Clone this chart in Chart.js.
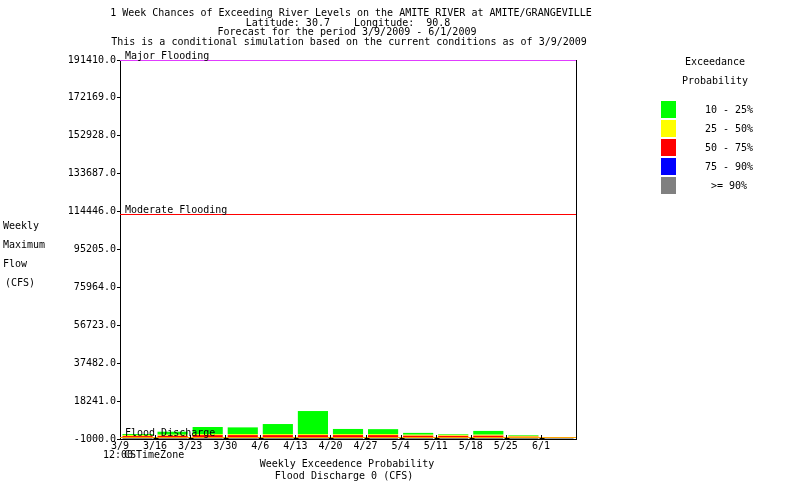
<!DOCTYPE html>
<html>
<head>
<meta charset="utf-8">
<script src="https://cdn.jsdelivr.net/npm/chart.js@4"></script>
<style>
html, body { margin: 0; padding: 0; background: #fff; }
#wrap { width: 800px; height: 500px; position: relative; }
</style>
</head>
<body>
<div id="wrap"><canvas id="chart"></canvas></div>
<script>
//Weeks (X axis tick labels, placed on the week boundaries)
const weeks = ['3/9', '3/16', '3/23', '3/30', '4/6', '4/13', '4/20', '4/27', '5/4', '5/11', '5/18', '5/25', '6/1'];

//Weekly maximum flow (CFS) per exceedance level
const p10 = [1500, 2700, 5100, 4900, 6600, 13200, 4100, 4000, 2100, 1500, 3100, 1000, -600];
const p25 = [1000, 1300, 1500, 1500, 1500, 1500, 1500, 1500, 1300, 1200, 1300, 700, -600];
const p50 = [500, 700, 1000, 1000, 1000, 1000, 1000, 1000, 800, 700, 800, 300, -600];
const p75 = [-500, -500, -500, -500, -500, -500, -500, -500, -500, -500, -500, -500, -600];
const p90 = [-500, -500, -500, -500, -500, -500, -500, -500, -500, -500, -500, -500, -600];
const floor = -1000;

//Y axis tick labels
const yTicks = [-1000, 18241, 37482, 56723, 75964, 95205, 114446, 133687, 152928, 172169, 191410];

//Flood levels (CFS)
const majorFlood = 191410;
const moderateFlood = 113300;
const floodDischarge = 0;

const FONT = '10px "DejaVu Sans Mono", "Liberation Mono", monospace';

//Floating bar [low, high] for one band
function band(lo, hi) {
    return weeks.map((w, i) => ({ x: i + 0.5, y: [lo[i], hi[i]] }));
}
const floorArr = weeks.map(() => floor);

const bandPlugin = {
    id: 'riverDecor',
    afterDatasetsDraw(chart) {
        const c = chart.ctx;
        const a = chart.chartArea;
        const ys = chart.scales.y;
        const xs = chart.scales.x;
        c.save();

        //Flood lines
        const lines = [
            [majorFlood, '#e03cff', 'Major Flooding'],
            [moderateFlood, '#ff0000', 'Moderate Flooding'],
            [floodDischarge, '#ffa500', 'Flood Discharge']
        ];
        c.lineWidth = 1;
        lines.forEach(l => {
            const y = Math.round(ys.getPixelForValue(l[0])) + 0.5;
            c.strokeStyle = l[1];
            c.beginPath();
            c.moveTo(a.left, y);
            c.lineTo(a.right, y);
            c.stroke();
        });
        c.font = FONT;
        c.fillStyle = 'black';
        c.textAlign = 'left';
        c.textBaseline = 'alphabetic';
        lines.forEach(l => {
            const y = Math.round(ys.getPixelForValue(l[0]));
            c.fillText(l[2], a.left + 5, y - 1);
        });

        //Right border
        c.strokeStyle = 'black';
        c.beginPath();
        c.moveTo(Math.round(a.right) + 0.5, a.top);
        c.lineTo(Math.round(a.right) + 0.5, a.bottom);
        c.stroke();

        //Upward tick marks on the X axis
        for (let i = 1; i < weeks.length; i++) {
            const x = Math.round(xs.getPixelForValue(i)) + 0.5;
            c.beginPath();
            c.moveTo(x, a.bottom);
            c.lineTo(x, a.bottom - 4);
            c.stroke();
            c.beginPath();
            c.moveTo(x - 2, a.bottom - 0.5);
            c.lineTo(x + 3, a.bottom - 0.5);
            c.stroke();
        }
        c.restore();
    },
    afterDraw(chart) {
        const c = chart.ctx;
        c.save();
        c.font = FONT;
        c.fillStyle = 'black';
        c.textBaseline = 'middle';

        //Title
        c.textAlign = 'center';
        c.fillText('1 Week Chances of Exceeding River Levels on the AMITE RIVER at AMITE/GRANGEVILLE', 351, 13);
        c.fillText('Latitude: 30.7    Longitude:  90.8', 348, 23);
        c.fillText('Forecast for the period 3/9/2009 - 6/1/2009', 347, 32);
        c.fillText('This is a conditional simulation based on the current conditions as of 3/9/2009', 349, 42);

        //Bottom titles
        c.fillText('Weekly Exceedence Probability', 347, 464);
        c.fillText('Flood Discharge 0 (CFS)', 344, 476);

        //Y axis title
        c.textAlign = 'left';
        ['Weekly', 'Maximum', 'Flow', '(CFS)'].forEach((t, i) => {
            c.fillText(t, i === 3 ? 5 : 3, 226 + i * 19);
        });

        //Time zone
        c.fillText('12:00', 103, 455);
        c.fillText('CSTimeZone', 124, 455);

        //Legend
        c.textAlign = 'center';
        c.fillText('Exceedance', 715, 62);
        c.fillText('Probability', 715, 81);
        const leg = [
            ['#00ff00', '10 - 25%'],
            ['#ffff00', '25 - 50%'],
            ['#ff0000', '50 - 75%'],
            ['#0000ff', '75 - 90%'],
            ['#808080', '>= 90%']
        ];
        leg.forEach((l, i) => {
            c.fillStyle = l[0];
            c.fillRect(661, 101 + i * 19, 15, 17);
            c.fillStyle = 'black';
            c.fillText(l[1], 729, 110 + i * 19);
        });
        c.restore();
    }
};

const barBase = {
    type: 'bar',
    grouped: false,
    borderWidth: 0,
    categoryPercentage: 0.86,
    barPercentage: 1
};

let ctx = document.getElementById('chart');

let chart = new Chart(ctx, {
    type: 'bar',
    data: {
        datasets: [
            Object.assign({ label: '10 - 25%', data: band(p25, p10), backgroundColor: '#00ff00' }, barBase),
            Object.assign({ label: '25 - 50%', data: band(p50, p25), backgroundColor: '#ffff00' }, barBase),
            Object.assign({ label: '50 - 75%', data: band(p75, p50), backgroundColor: '#ff0000' }, barBase),
            Object.assign({ label: '75 - 90%', data: band(p90, p75), backgroundColor: '#0000ff' }, barBase),
            Object.assign({ label: '>= 90%', data: band(floorArr, p90), backgroundColor: '#808080' }, barBase)
        ]
    },
    options: {
        responsive: true,
        maintainAspectRatio: false,
        animation: false,
        layout: {
            padding: { left: 0, top: 60, right: 224, bottom: 0 }
        },
        plugins: {
            legend: { display: false },
            title: { display: false },
            tooltip: { enabled: false }
        },
        scales: {
            x: {
                type: 'linear',
                min: 0,
                max: 13,
                offset: false,
                afterBuildTicks: s => { s.ticks = weeks.map((w, i) => ({ value: i })); },
                afterFit: s => { s.height = 61; },
                ticks: {
                    callback: v => weeks[v],
                    autoSkip: false,
                    maxRotation: 0,
                    padding: 1,
                    color: 'black',
                    font: { family: '"DejaVu Sans Mono"', size: 10 }
                },
                grid: { drawOnChartArea: false, drawTicks: false, offset: false, color: 'black' },
                border: { color: 'black' }
            },
            y: {
                min: floor,
                max: majorFlood,
                afterBuildTicks: s => { s.ticks = yTicks.map(v => ({ value: v })); },
                afterFit: s => { s.width = 120; },
                ticks: {
                    callback: v => v.toFixed(1),
                    autoSkip: false,
                    padding: 1,
                    color: 'black',
                    font: { family: '"DejaVu Sans Mono"', size: 10 }
                },
                grid: { drawOnChartArea: false, tickLength: 3, color: 'black' },
                border: { color: 'black' }
            }
        }
    },
    plugins: [bandPlugin]
});
</script>
</body>
</html>
